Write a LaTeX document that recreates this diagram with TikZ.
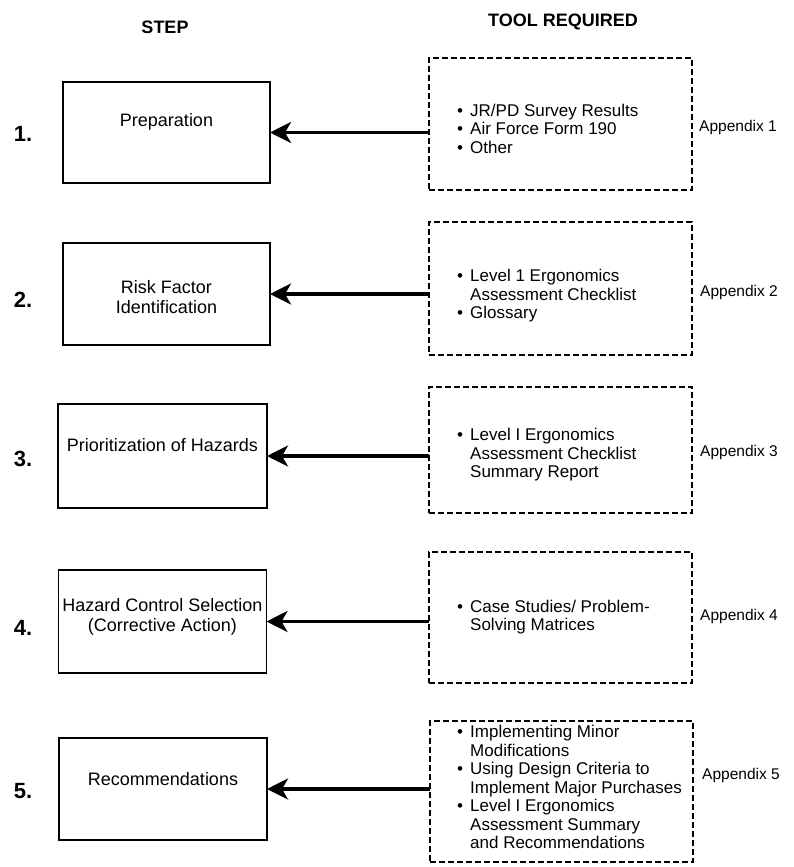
\documentclass[tikz,border=0pt]{standalone}
\usepackage{fontspec}
\setmainfont{Liberation Sans}
\usetikzlibrary{arrows.meta}
\newcommand{\bul}{\makebox[13pt][l]{\textbullet}}
\newcommand{\ind}{\hspace*{13pt}}
\tikzset{
  stepbox/.style={draw, line width=1.6pt, inner sep=0pt, outer sep=0pt},
  toolbox/.style={draw, line width=1.4pt, dash pattern=on 6pt off 3pt, inner sep=0pt, outer sep=0pt},
  steptext/.style={align=center, inner sep=0pt, font=\fontsize{18}{20}\selectfont},
  tooltext/.style={align=left, anchor=west, inner sep=0pt, font=\fontsize{17}{18.5}\selectfont},
  apptext/.style={anchor=west, inner sep=0pt, font=\fontsize{15.5}{17}\selectfont},
  numtext/.style={inner sep=0pt, font=\bfseries\fontsize{22}{24}\selectfont},
  headtext/.style={inner sep=0pt, font=\bfseries\fontsize{18}{20}\selectfont},
  arr/.style={line width=3.5pt, -{Stealth[length=21pt,width=21pt,inset=6pt]}}
}
\begin{document}
\begin{tikzpicture}[x=1pt,y=-1pt]
\useasboundingbox (0,0) rectangle (794,867);
% headers
\node[headtext] (hstep) at (165,27) {STEP};
\node[headtext] (htool) at (563,22) {TOOL REQUIRED};
% step boxes
\node[stepbox, minimum width=207pt, minimum height=101pt] (s1) at (166.5,132.5) {};
\node[stepbox, minimum width=207pt, minimum height=102pt] (s2) at (166.5,294) {};
\node[stepbox, minimum width=209pt, minimum height=104pt] (s3) at (162.5,456) {};
\node[stepbox, minimum width=208pt, minimum height=103pt] (s4) at (162.5,621.5) {};
\node[stepbox, minimum width=208pt, minimum height=102pt] (s5) at (163,789) {};
% step texts
\node[steptext] (st1) at (166.5,122) {Preparation};
\node[steptext] (st2) at (166.5,297.5) {Risk Factor\\Identification};
\node[steptext] (st3) at (162.5,445) {Prioritization of Hazards};
\node[steptext] (st4) at (162.5,617) {Hazard Control Selection\\(Corrective Action)};
\node[steptext] (st5) at (163,779) {Recommendations};
% numbers
\node[numtext] (n1) at (23,134) {1.};
\node[numtext] (n2) at (23,300) {2.};
\node[numtext] (n3) at (23,459) {3.};
\node[numtext] (n4) at (23,628) {4.};
\node[numtext] (n5) at (23,791) {5.};
% tool boxes
\node[toolbox, minimum width=263pt, minimum height=132pt] (d1) at (560.5,124) {};
\node[toolbox, minimum width=263pt, minimum height=133pt] (d2) at (560.5,288.5) {};
\node[toolbox, minimum width=263pt, minimum height=126pt] (d3) at (560.5,450) {};
\node[toolbox, minimum width=263pt, minimum height=131pt] (d4) at (560.5,617.5) {};
\node[toolbox, minimum width=263pt, minimum height=141pt] (d5) at (561.5,791.5) {};
% tool texts
\node[tooltext] (tt1) at (457,128.5) {\bul JR/PD Survey Results\\\bul Air Force Form 190\\\bul Other};
\node[tooltext] (tt2) at (457,296) {\bul Level 1 Ergonomics\\\ind Assessment Checklist\\\bul Glossary};
\node[tooltext] (tt3) at (457,455) {\bul Level I Ergonomics\\\ind Assessment Checklist\\\ind Summary Report};
\node[tooltext] (tt4) at (457,617) {\bul Case Studies/ Problem-\\\ind Solving Matrices};
\node[tooltext] (tt5) at (457,787) {\bul Implementing Minor\\\ind Modifications\\\bul Using Design Criteria to\\\ind Implement Major Purchases\\\bul Level I Ergonomics\\\ind Assessment Summary\\\ind and Recommendations};
% appendix labels
\node[apptext] (a1) at (699,127) {Appendix 1};
\node[apptext] (a2) at (700,292) {Appendix 2};
\node[apptext] (a3) at (700,452) {Appendix 3};
\node[apptext] (a4) at (700,616) {Appendix 4};
\node[apptext] (a5) at (702,775) {Appendix 5};
% arrows
\draw[arr] (d1.west |- s1.east) -- (s1.east);
\draw[arr] (d2.west |- s2.east) -- (s2.east);
\draw[arr] (d3.west |- s3.east) -- (s3.east);
\draw[arr] (d4.west |- s4.east) -- (s4.east);
\draw[arr] (d5.west |- s5.east) -- (s5.east);
\end{tikzpicture}
\end{document}
